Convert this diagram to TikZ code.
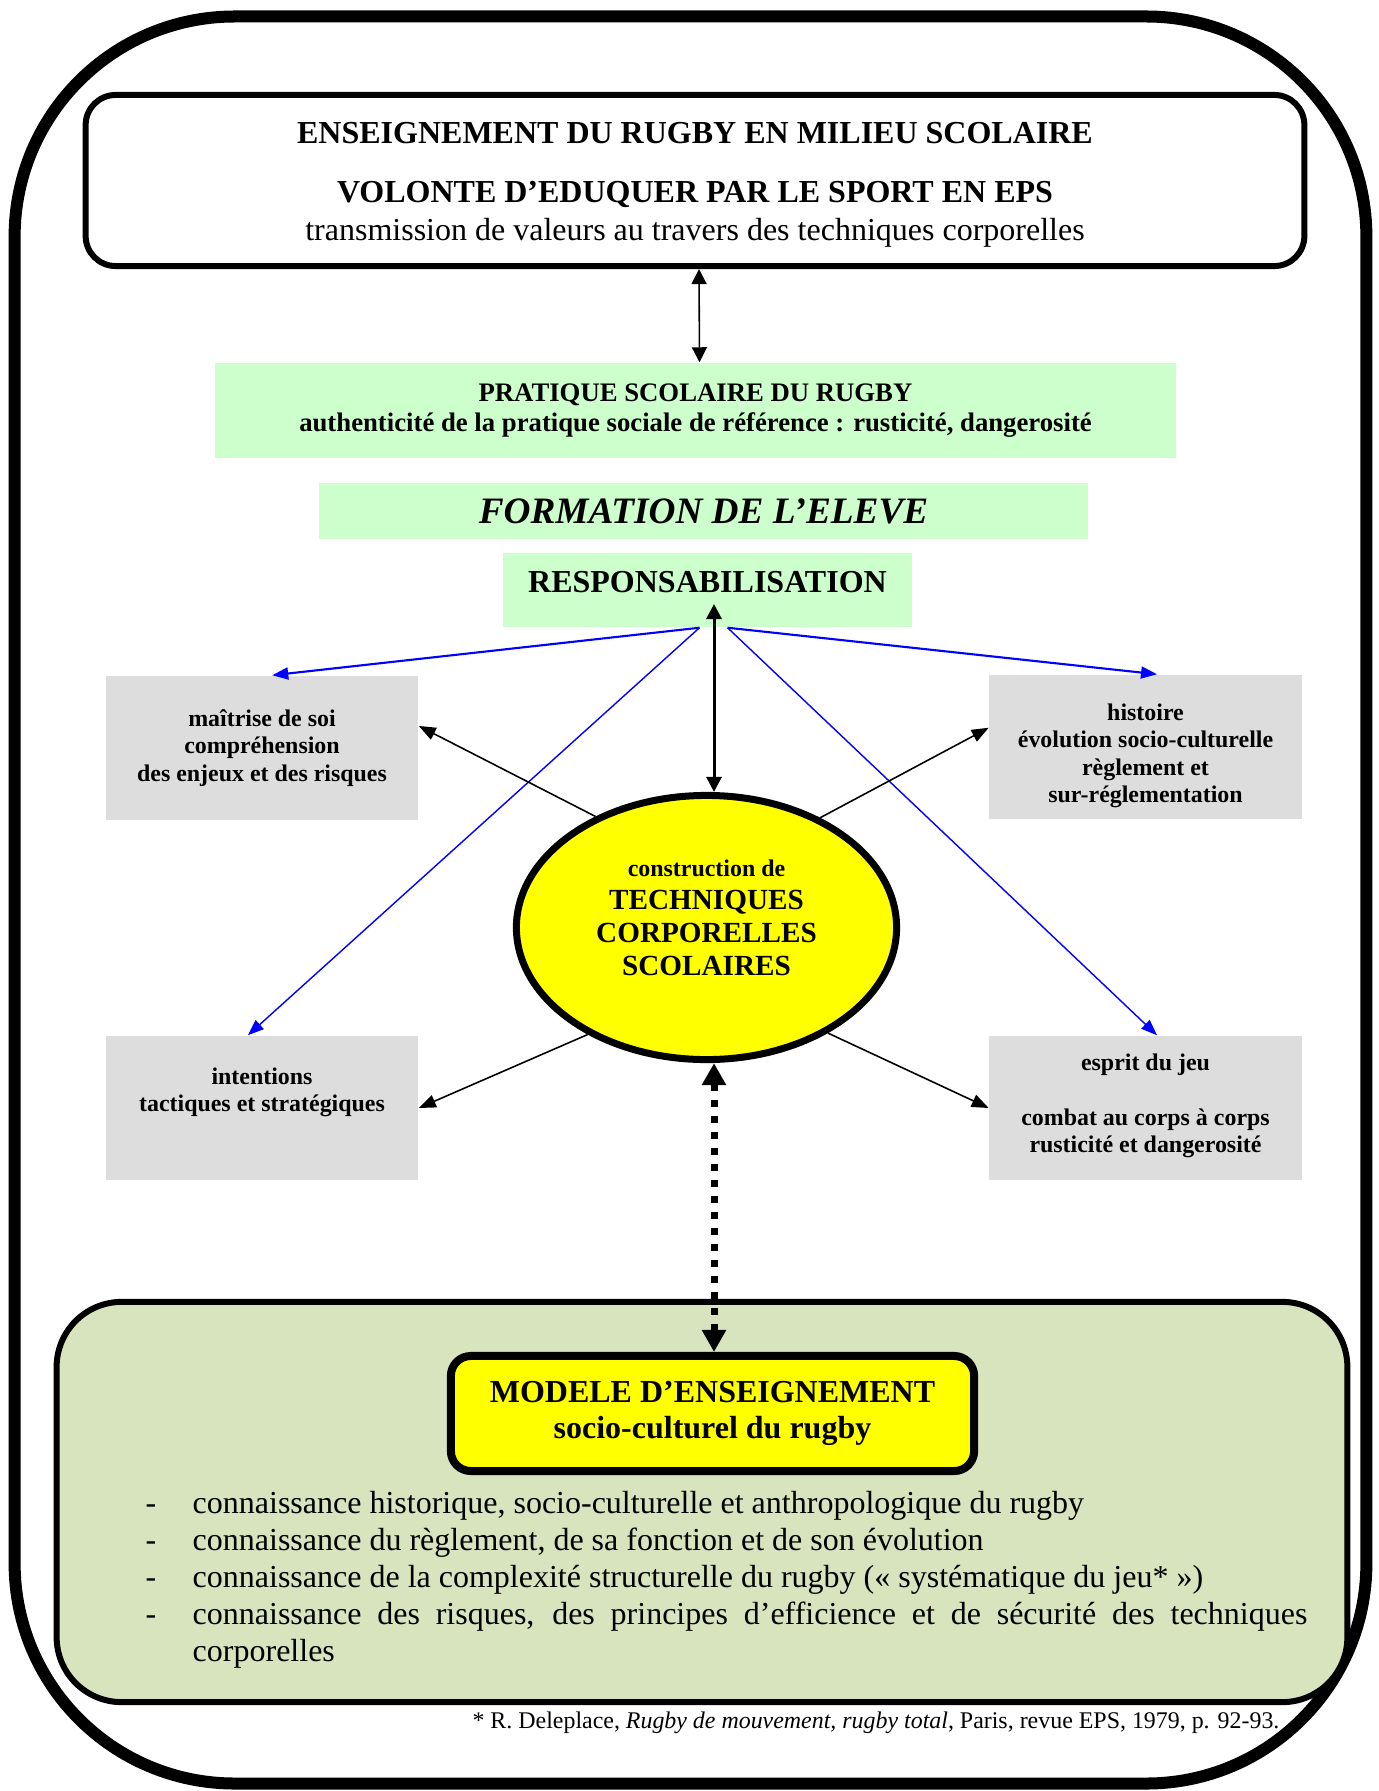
\documentclass[tikz,border=0pt]{standalone}
\usepackage{fontspec}
\setmainfont{Liberation Serif}
\usepackage{xcolor}
\usepackage{tikz}
\usetikzlibrary{positioning,arrows.meta,shapes.geometric}
\definecolor{palegreen}{HTML}{CCFFCC}
\definecolor{boxgrey}{HTML}{DDDDDD}
\definecolor{sage}{HTML}{D7E4BD}
\definecolor{lemon}{HTML}{FFFF00}
\definecolor{linkblue}{HTML}{0000FF}
\tikzset{
  outerframe/.style={rectangle, draw, line width=0.12cm, rounded corners=2.2cm,
                     minimum width=13.51cm, minimum height=17.66cm},
  titlebox/.style={rectangle, draw, line width=0.06cm, rounded corners=0.3cm,
                   align=center, minimum width=12.18cm, minimum height=1.71cm,
                   font=\fontsize{9.1}{10.8}\selectfont},
  band/.style={rectangle, fill=palegreen, align=center, inner sep=0pt},
  topic/.style={rectangle, fill=boxgrey, align=center, inner sep=0pt,
                minimum width=3.12cm, minimum height=1.44cm,
                font=\fontsize{6.8}{7.8}\selectfont\bfseries},
  core/.style={ellipse, draw, fill=lemon, line width=0.07cm, inner sep=0pt,
               minimum width=3.80cm, minimum height=2.64cm, align=center,
               font=\fontsize{8.3}{9.4}\selectfont\bfseries},
  panel/.style={rectangle, draw, fill=sage, line width=0.06cm,
                rounded corners=0.65cm, minimum width=12.90cm, minimum height=4.00cm},
  modelbox/.style={rectangle, draw, fill=lemon, line width=0.08cm,
                   rounded corners=0.2cm, minimum width=5.23cm, minimum height=1.15cm,
                   align=center, font=\fontsize{9.1}{10.2}\selectfont\bfseries},
  itemlist/.style={anchor=north west, inner sep=0pt, text width=11.61cm,
                   align=justify, font=\fontsize{9.1}{10.5}\selectfont},
  ar/.style={-{Triangle[length=0.17cm,width=0.13cm]}, line width=0.45pt},
  arb/.style={-{Triangle[length=0.16cm,width=0.12cm]}, draw=linkblue, line width=#1},
  arb/.default=0.4pt,
  link/.style={{Triangle[length=#1,width=#1]}-{Triangle[length=#1,width=#1]}},
  dotlink/.style={{Triangle[length=0.22cm,width=0.23cm]}-{Triangle[length=0.22cm,width=0.23cm]},
                  line width=0.07cm, dash pattern=on 0.07cm off 0.09cm},
}
\newcommand{\dash}{\noindent\makebox[0.47cm][l]{-}}

\begin{document}
\begin{tikzpicture}[x=0.01cm, y=-0.01cm]
  \useasboundingbox (0,0) rectangle (1379,1791);
  \node[outerframe] (frame) at (690.5,900) {};

  % upper part
  \node[titlebox] (top) at (695,180.5)
    {~\\[-2.2pt]\textbf{ENSEIGNEMENT DU RUGBY EN MILIEU SCOLAIRE}\\[6pt]
     \textbf{VOLONTE D’EDUQUER PAR LE SPORT EN EPS}\\
     transmission de valeurs au travers des techniques corporelles};
  \node[band, minimum width=9.61cm, minimum height=0.95cm,
        font=\fontsize{7.6}{8.5}\selectfont\bfseries] (prat) at (695.5,410.5)
    {PRATIQUE SCOLAIRE DU RUGBY\\authenticité de la pratique sociale de référence : rusticité, dangerosité};
  \node[band, minimum width=7.69cm, minimum height=0.56cm,
        font=\fontsize{10.6}{12}\selectfont\bfseries\itshape] (form) at (703.5,511)
    {FORMATION DE L’ELEVE};
  \node[band, minimum width=4.09cm, minimum height=0.74cm, text depth=0.16cm,
        font=\fontsize{9.1}{10}\selectfont\bfseries] (resp) at (707.5,590)
    {RESPONSABILISATION};

  % themes around the ellipse
  \node[topic] (tl) at (262,748) {maîtrise de soi\\compréhension\\des enjeux et des risques};
  \node[topic] (tr) at (1145.5,747) {~\\[2pt]histoire\\évolution socio-culturelle\\règlement et\\sur-réglementation};
  \node[topic] (bl) at (262,1108) {intentions\\tactiques et stratégiques\\[2.6pt]~};
  \node[topic] (br) at (1145.5,1108) {esprit du jeu\\[7.8pt]combat au corps à corps\\rusticité et dangerosité\\[-5pt]~};
  \node[core] (el) at (706.5,927.5)
    {{\fontsize{6.8}{9.4}\selectfont construction de}\\TECHNIQUES\\CORPORELLES\\SCOLAIRES\\[-3.7pt]~};

  % lower panel
  \node[panel] (panel) at (702,1502) {};
  \node[modelbox] (model) at (712.5,1413.5) {MODELE D’ENSEIGNEMENT\\socio-culturel du rugby};
  \node[itemlist] (items) at (145,1491) {\hyphenpenalty=10000\exhyphenpenalty=10000
    \dash connaissance historique, socio-culturelle et anthropologique du rugby\par
    \dash connaissance du règlement, de sa fonction et de son évolution\par
    \dash connaissance de la complexité structurelle du rugby («~systématique du jeu*~»)\par
    \hangindent=0.47cm\hangafter=1
    \dash connaissance des risques, des principes d’efficience et de sécurité des techniques corporelles\par};
  \node[font=\fontsize{6.8}{8}\selectfont] (ref) at (876,1723)
    {* R. Deleplace, \textit{Rugby de mouvement, rugby total}, Paris, revue EPS, 1979, p. 92-93.};

  % connectors
  \coordinate (axis) at (714,0);
  \coordinate (resptip) at (714,604);
  \draw[link=0.15cm, line width=0.45pt] ([xshift=0.04cm]top.south) -- ([xshift=0.04cm]prat.north);
  \draw[link=0.15cm, line width=0.85pt] (resptip) -- (el.north -| axis);
  \draw[dotlink] (el.south -| axis) -- (model.north -| axis);
  \draw[arb=0.6pt] (resp.258) -- (tl.82);
  \draw[arb=0.6pt] (resp.298) -- (tr.81);
  \draw[arb] (resp.258) -- (bl.101);
  \draw[arb] (resp.298) -- (br.81);
  \draw[ar] (el.135) -- (tl.8);
  \draw[ar] (el.44) -- (tr.173);
  \draw[ar] (el.222) -- (bl.east);
  \draw[ar] (el.319) -- (br.west);
\end{tikzpicture}
\end{document}
